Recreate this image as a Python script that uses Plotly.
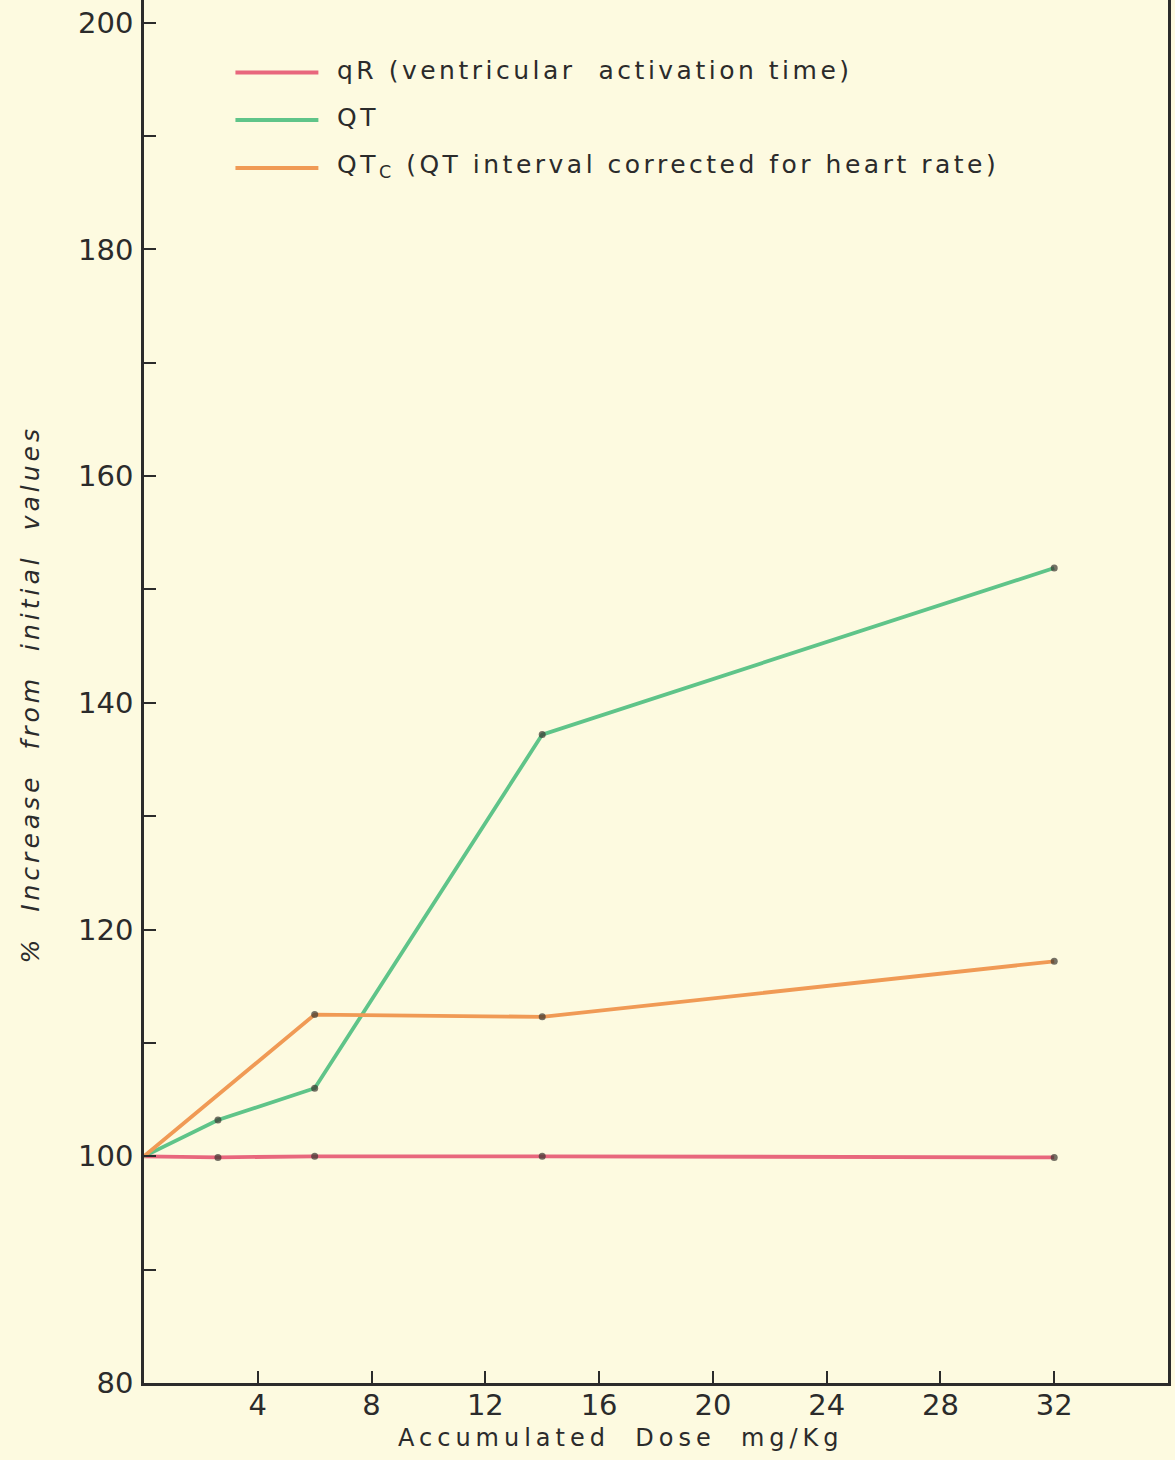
import plotly.graph_objects as go

# Accumulated dose (mg/Kg) at each measurement
dose = [0, 2.6, 6, 14, 32]

# % of initial value for each ECG interval
qr_vals = [100, 99.9, 100, 100, 99.9]
qt_vals = [100, 103.2, 106.0, 137.2, 151.9]
qtc_dose = [0, 6, 14, 32]
qtc_vals = [100, 112.5, 112.3, 117.2]

series_names = ["qR (ventricular  activation time)", "QT",
                "QT<sub>C</sub> (QT interval corrected for heart rate)"]
series_colors = ["#e8677d", "#5fc489", "#f09a55"]

x_ticks = [4, 8, 12, 16, 20, 24, 28, 32]
y_ticks = [80, 100, 120, 140, 160, 180, 200]
y_minor = [90, 110, 130, 150, 170, 190]

x_title = "Accumulated  Dose  mg/Kg"
y_title = "<i>%  Increase  from  initial  values</i>"

BG = "#fdfae0"
INK = "#2b2b2b"
FONT = "DejaVu Sans"

fig = go.Figure()


def add_series(xs, ys, color):
    # no dot at the common origin
    sizes = [0] + [7] * (len(xs) - 1)
    fig.add_trace(go.Scatter(
        x=xs, y=ys, mode="lines+markers",
        line=dict(color=color, width=3.8),
        marker=dict(size=sizes, color="#3a3630", line=dict(width=0)),
        showlegend=False, hoverinfo="x+y",
    ))


add_series(dose, qr_vals, series_colors[0])
add_series(dose, qt_vals, series_colors[1])
add_series(qtc_dose, qtc_vals, series_colors[2])

# key in the upper left of the plot
key_y = [0.9475, 0.9132, 0.8785]
for name, color, ky in zip(series_names, series_colors, key_y):
    fig.add_shape(type="line", xref="paper", yref="paper",
                  x0=0.0893, x1=0.1703, y0=ky, y1=ky,
                  line=dict(color=color, width=4))
    fig.add_annotation(xref="paper", yref="paper", x=0.1865, y=ky + 0.0015,
                       xanchor="left", yanchor="middle", align="left",
                       showarrow=False, text=name,
                       font=dict(family=FONT, size=25, color=INK))

# axis titles placed as free text
fig.add_annotation(xref="paper", yref="paper", x=0.466, y=-0.0398,
                   xanchor="center", yanchor="middle", showarrow=False,
                   text=x_title, font=dict(family=FONT, size=24, color=INK))
fig.add_annotation(xref="paper", yref="paper", x=-0.1108, y=0.4975,
                   xanchor="center", yanchor="middle", showarrow=False,
                   textangle=-90, text=y_title,
                   font=dict(family=FONT, size=25, color=INK))

fig.update_layout(
    width=1175, height=1460,
    margin=dict(l=144, r=7, t=0, b=77),
    paper_bgcolor=BG, plot_bgcolor=BG,
    font=dict(family=FONT, color=INK),
)

fig.update_xaxes(
    range=[0, 36], tickvals=x_ticks, ticktext=[str(v) for v in x_ticks],
    ticks="inside", ticklen=12, tickwidth=2, tickcolor=INK,
    showline=True, linecolor=INK, linewidth=2.5, mirror=False,
    showgrid=False, zeroline=False,
    tickfont=dict(family=FONT, size=29, color=INK), ticklabelstandoff=-6,
)
fig.update_yaxes(
    range=[80, 202], tickvals=y_ticks, ticktext=[str(v) for v in y_ticks],
    ticks="inside", ticklen=12, tickwidth=2, tickcolor=INK,
    minor=dict(tickvals=y_minor, ticks="inside", ticklen=12, tickwidth=2,
               tickcolor=INK, showgrid=False),
    showline=True, linecolor=INK, linewidth=2.5, mirror=True,
    showgrid=False, zeroline=False,
    tickfont=dict(family=FONT, size=29, color=INK), ticklabelstandoff=2,
)

# widen the letter spacing of the hand-lettered labels
spacing_js = """
var gd = document.getElementById('{plot_id}');
function spread() {
  gd.querySelectorAll('text.annotation-text').forEach(function (t) {
    var s = t.textContent;
    if (s.indexOf('Accumulated') === 0) { t.style.letterSpacing = '5px'; }
    else if (s.indexOf('%') === 0) { t.style.letterSpacing = '4px'; }
    else { t.style.letterSpacing = '3.5px'; }
  });
}
spread();
gd.on('plotly_afterplot', spread);
"""

fig.write_html("out.html", post_script=spacing_js)
